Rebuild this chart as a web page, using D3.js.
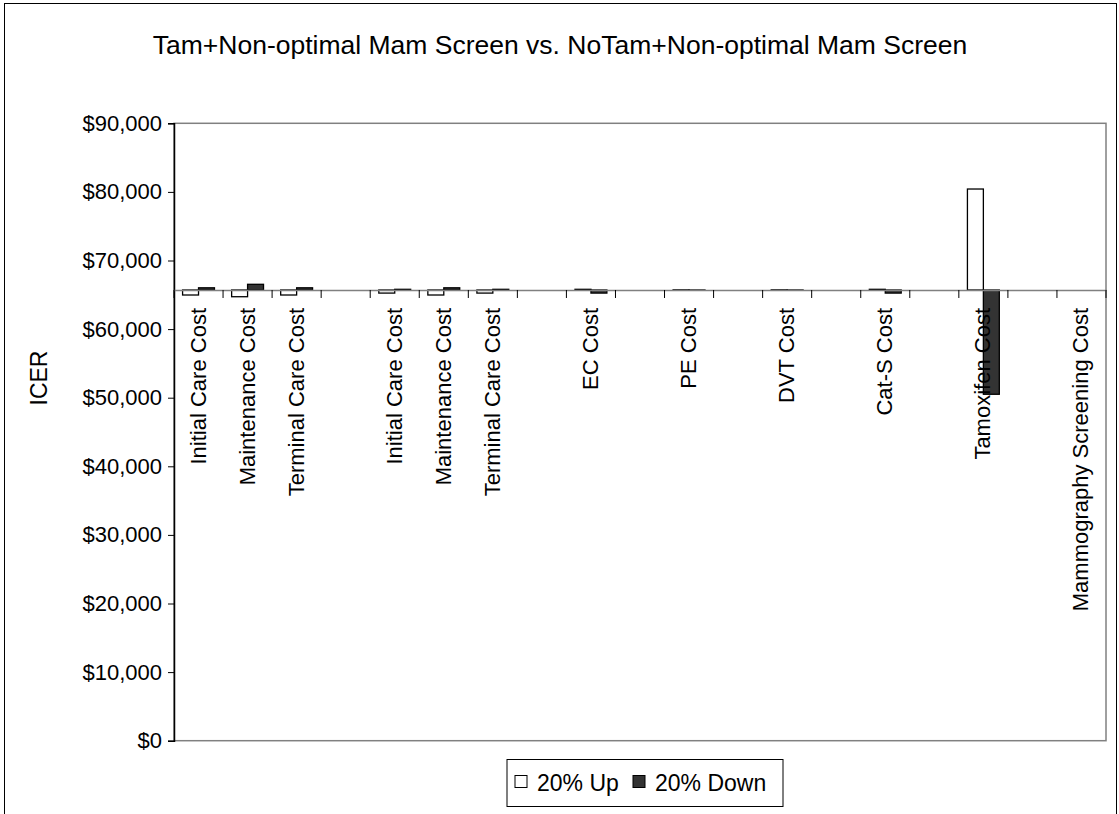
<!DOCTYPE html>
<html>
<head>
<meta charset="utf-8">
<script src="https://cdn.jsdelivr.net/npm/d3@7"></script>
<style>
  body { margin: 0; background: #fff; }
  svg { display: block; font-family: Arial, "Liberation Sans", sans-serif; }
</style>
</head>
<body>
<svg id="chart" width="1119" height="814"></svg>
<script>
// ---- data ----
const title = "Tam+Non-optimal Mam Screen vs. NoTam+Non-optimal Mam Screen";
const categories = [
  "Initial Care Cost", "Maintenance Cost", "Terminal Care Cost", "",
  "Initial Care Cost", "Maintenance Cost", "Terminal Care Cost", "",
  "EC Cost", "", "PE Cost", "", "DVT Cost", "", "Cat-S Cost", "",
  "Tamoxifen Cost", "", "Mammography Screening Cost"
];
const up20 = [
  64970, 64720, 64970, null,
  65250, 64970, 65250, null,
  65800, null, 65720, null, 65720, null, 65800, null,
  80420, null, 65700
];
const down20 = [
  66020, 66530, 66020, null,
  65800, 66020, 65800, null,
  65250, null, 65680, null, 65680, null, 65250, null,
  50500, null, 65700
];
const baseICER = 65700;
const yTicks = [0, 10000, 20000, 30000, 40000, 50000, 60000, 70000, 80000, 90000];
const seriesNames = ["20% Up", "20% Down"];
const seriesColors = ["#ffffff", "#333333"];

// ---- layout ----
const svg = d3.select("#chart");
const pL = 174, pR = 1106, pT = 123.3, pB = 740.7;

svg.append("rect").attr("x", 4.5).attr("y", 3.5).attr("width", 1112).attr("height", 820)
  .attr("fill", "none").attr("stroke", "#000").attr("stroke-width", 1);

svg.append("text").attr("x", 560).attr("y", 54).attr("text-anchor", "middle")
  .attr("font-size", 26.5).attr("fill", "#000").text(title);

const x = d3.scaleBand().domain(d3.range(categories.length)).range([pL, pR]).paddingInner(0).paddingOuter(0);
const y = d3.scaleLinear().domain([0, 90000]).range([pB, pT]);
const groupW = x.bandwidth() * 0.65;
const xs = d3.scaleBand().domain([0, 1]).range([0, groupW]);

// plot area border
svg.append("rect").attr("x", pL).attr("y", pT).attr("width", pR - pL).attr("height", pB - pT)
  .attr("fill", "none").attr("stroke", "#808080").attr("stroke-width", 1.5);

// y axis
const yAxis = d3.axisLeft(y).tickValues(yTicks).tickSize(6).tickPadding(6)
  .tickFormat(d => "$" + d3.format(",")(d));
const gy = svg.append("g").attr("transform", `translate(${pL},0)`).call(yAxis);
gy.select(".domain").attr("stroke", "#000").attr("stroke-width", 1.5);
gy.selectAll(".tick line").attr("stroke", "#000");
gy.selectAll(".tick text").attr("font-size", 22).attr("fill", "#000")
  .attr("font-family", "Arial, 'Liberation Sans', sans-serif");

svg.append("text").attr("transform", `translate(47,378) rotate(-90)`)
  .attr("text-anchor", "middle").attr("font-size", 23).attr("fill", "#000").text("ICER");

// bars
const series = [up20, down20];
series.forEach((vals, s) => {
  svg.append("g").selectAll("rect")
    .data(vals.map((v, i) => ({ v, i })).filter(d => d.v !== null && d.v !== baseICER))
    .join("rect")
    .attr("x", d => x(d.i) + (x.bandwidth() - groupW) / 2 + xs(s))
    .attr("width", xs.bandwidth())
    .attr("y", d => Math.min(y(d.v), y(baseICER)))
    .attr("height", d => Math.abs(y(d.v) - y(baseICER)))
    .attr("fill", seriesColors[s]).attr("stroke", "#000").attr("stroke-width", 1.3);
});

// category axis at base ICER
const xAxis = d3.axisBottom(x).tickSize(0).tickFormat("");
const gx = svg.append("g").attr("transform", `translate(0,${y(baseICER)})`).call(xAxis);
gx.select(".domain").attr("stroke", "#808080").attr("stroke-width", 1.5);
const boundaries = d3.range(categories.length + 1).map(i => pL + i * x.step());
gx.selectAll("line.cat-tick").data(boundaries).join("line").attr("class", "cat-tick")
  .attr("x1", d => d).attr("x2", d => d).attr("y1", 0).attr("y2", 8)
  .attr("stroke", "#000").attr("stroke-width", 1);

// category labels (rotated)
svg.append("g").selectAll("text").data(categories.map((c, i) => ({ c, i })).filter(d => d.c))
  .join("text")
  .attr("transform", d => `translate(${x(d.i) + x.bandwidth() / 2 + 7},${y(baseICER) + 18}) rotate(-90)`)
  .attr("text-anchor", "end").attr("font-size", 22).attr("fill", "#000").text(d => d.c);

// legend
const lg = svg.append("g").attr("transform", "translate(507,759.5)");
lg.append("rect").attr("x", 0).attr("y", 0).attr("width", 276).attr("height", 47)
  .attr("fill", "#fff").attr("stroke", "#000").attr("stroke-width", 1);
const legX = [8, 126];
seriesNames.forEach((n, s) => {
  lg.append("rect").attr("x", legX[s]).attr("y", 16).attr("width", 12).attr("height", 12)
    .attr("fill", seriesColors[s]).attr("stroke", "#000").attr("stroke-width", 1);
  lg.append("text").attr("x", legX[s] + 22).attr("y", 31).attr("font-size", 23).attr("fill", "#000").text(n);
});
</script>
</body>
</html>
